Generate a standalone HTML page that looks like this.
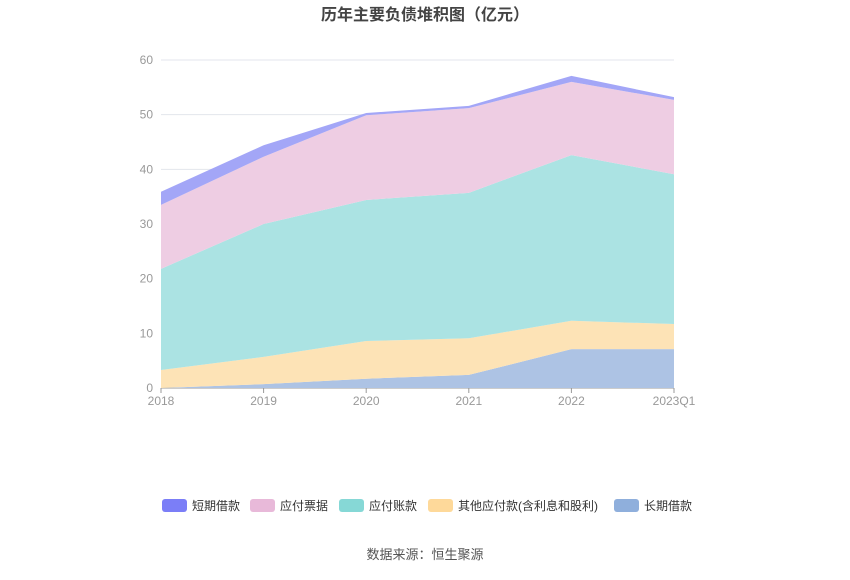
<!DOCTYPE html>
<html><head><meta charset="utf-8"><style>
body{margin:0;background:#fff;font-family:"Liberation Sans","Noto Sans CJK SC",sans-serif;}
svg text{font-family:"Liberation Sans","Noto Sans CJK SC",sans-serif;}
</style></head><body>
<svg id="chart" width="850" height="575">
<text x="425" y="20" text-anchor="middle" font-size="16" font-weight="bold" fill="#444">历年主要负债堆积图（亿元）</text>
<g id="grid"></g><g id="areas"></g><g id="axes"></g><g id="legend"></g>
<text x="425" y="559" text-anchor="middle" font-size="13" fill="#555">数据来源：恒生聚源</text>
</svg>
<script>
const categories=["2018","2019","2020","2021","2022","2023Q1"];
const longLoans=[0,0.7,1.7,2.4,7.1,7.1];
const otherPayables=[3.3,5.0,6.9,6.7,5.2,4.6];
const accountsPayable=[18.5,24.3,25.8,26.6,30.3,27.4];
const notesPayable=[11.7,12.3,15.5,15.5,13.4,13.6];
const shortLoans=[2.4,2.1,0.4,0.4,1.1,0.5];
const yTicks=[0,10,20,30,40,50,60];
const NS="http://www.w3.org/2000/svg";
const x0=161,x1=674,yb=388,yt=60,ymax=60;
const xs=i=>x0+(x1-x0)*i/(categories.length-1);
const ys=v=>yb-(yb-yt)*v/ymax;
function mk(t,a,p){const e=document.createElementNS(NS,t);for(const k in a)e.setAttribute(k,a[k]);p.appendChild(e);return e;}
const grid=document.getElementById('grid'),axes=document.getElementById('axes'),areas=document.getElementById('areas'),legend=document.getElementById('legend');
yTicks.forEach(t=>{
 const l=mk('line',{x1:x0,x2:x1,y1:ys(t),y2:ys(t),stroke:t===0?'#999':'#e3e6ec'},grid);
 
 
 const tx=mk('text',{x:153,y:ys(t)+4,'text-anchor':'end','font-size':12,fill:'#999'},axes);tx.textContent=t;
 
 
});
categories.forEach((c,i)=>{
 const tk=mk('line',{x1:xs(i),x2:xs(i),y1:yb,y2:yb+5,stroke:'#999'},axes);
 
 
 const tx=mk('text',{x:xs(i),y:yb+17,'text-anchor':'middle','font-size':12,fill:'#999'},axes);tx.textContent=c;
 
 
});
const series=[
 {name:"长期借款",data:longLoans,fill:"#adc3e4",leg:"#8fafdc",id:"long-loans"},
 {name:"其他应付款(含利息和股利)",data:otherPayables,fill:"#fde3b6",leg:"#fed99a",id:"other-payables"},
 {name:"应付账款",data:accountsPayable,fill:"#abe3e3",leg:"#86d8d6",id:"accounts-payable"},
 {name:"应付票据",data:notesPayable,fill:"#eecde3",leg:"#e8b9d9",id:"notes-payable"},
 {name:"短期借款",data:shortLoans,fill:"#a3a6f7",leg:"#7b7ef7",id:"short-loans"}];
let base=categories.map(()=>0);
series.forEach(s=>{
 const top=base.map((b,i)=>b+s.data[i]);
 let d=top.map((v,i)=>(i?'L':'M')+xs(i)+','+ys(v)).join('');
 for(let i=categories.length-1;i>=0;i--)d+='L'+xs(i)+','+ys(base[i]);
 const p=mk('path',{d:d+'Z',fill:s.fill},areas);
 
 
 base=top;
});
const legItems=[4,3,2,1,0];const legX=[162,250,339,428,614];
legItems.forEach((si,k)=>{
 const s=series[si];
 const g=mk('g',{},legend);
 
 
 mk('rect',{x:legX[k],y:499,width:25,height:13,rx:3,fill:s.leg},g);
 const t=mk('text',{x:legX[k]+30,y:510,'font-size':12,fill:'#333'},g);t.textContent=s.name;
});
</script>
</body></html>
